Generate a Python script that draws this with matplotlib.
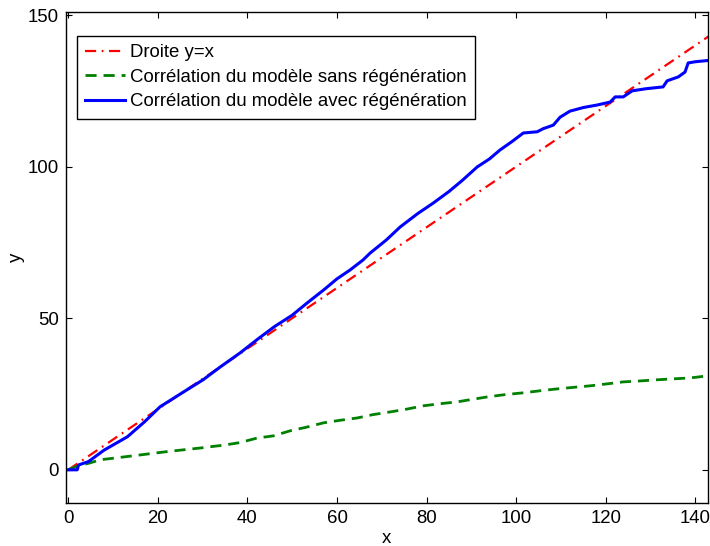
import numpy as np
import matplotlib.pyplot as plt

plt.rcParams['font.family'] = ['Liberation Sans', 'DejaVu Sans']

# droite y = x
x_droite = [0, 143]
y_droite = [0, 143]

# modèle sans régénération
x_sans = [0, 2, 4.9, 7.1, 11, 16, 22, 29.5, 35, 38.4, 42.2, 45.8, 49.6, 53, 57, 60.5,
          64.5, 68, 71.9, 75.5, 79.2, 83, 86.8, 90, 93.8, 97.5, 101.6, 105.5, 109.2,
          112.8, 116.5, 120, 123.9, 127.5, 131.5, 135, 138.8, 142.8]
y_sans = [0, 1.2, 2.3, 3.3, 4.0, 4.9, 6.0, 7.2, 8.2, 9.0, 10.5, 11.2, 12.9, 14.0, 15.5, 16.3,
          17.1, 18.2, 19.1, 20.0, 21.1, 21.8, 22.4, 23.2, 24.1, 24.8, 25.4, 26.1, 26.7,
          27.2, 27.7, 28.3, 29.0, 29.3, 29.7, 30.0, 30.3, 31.0]

# modèle avec régénération
x_avec = [0, 2, 2.3, 4.5, 8, 13.2, 17, 20.5, 25, 30.1, 34, 38.4, 42.2, 46, 50, 53.3,
          57, 60, 62.9, 65.8, 67.4, 71, 74.1, 78, 81.5, 85, 88, 91.3, 94, 96.4, 99,
          101.6, 104.7, 106, 108.3, 109.8, 112, 115, 118, 121, 122.1, 123.9, 125.9,
          129, 132.8, 133.7, 136.2, 137.7, 138.4, 140, 142.8]
y_avec = [0, 0, 1.6, 2.7, 6.5, 10.9, 15.8, 20.8, 25.0, 29.7, 34.0, 38.6, 43.0, 47.2, 51.0, 55.0,
          59.3, 63.0, 65.9, 69.2, 71.5, 75.8, 80.1, 84.5, 88.0, 91.8, 95.5, 99.9, 102.5, 105.5, 108.2,
          111.1, 111.5, 112.5, 113.7, 116.3, 118.3, 119.5, 120.3, 121.3, 123.0, 123.0, 125.0,
          125.7, 126.3, 128.3, 129.6, 131.2, 134.2, 134.6, 135.0]

fig = plt.figure(figsize=(7.1, 5.46), dpi=100)
ax = fig.add_axes([0.093, 0.079, 0.904, 0.899])

ax.plot(x_droite, y_droite, color='red', lw=1.6, linestyle=(0, (5, 2.5, 0.8, 2.5)),
        label='Droite y=x')
ax.plot(x_sans, y_sans, color='green', lw=2, linestyle=(0, (4, 2.5)),
        label='Corrélation du modèle sans régénération')
ax.plot(x_avec, y_avec, color='blue', lw=2.2, label='Corrélation du modèle avec régénération')

ax.set_xlim(-0.5, 142.8)
ax.set_ylim(-10.9, 151)
ax.set_xticks(range(0, 141, 20))
ax.set_yticks([0, 50, 100, 150])
ax.tick_params(direction='in', length=4, width=0.8, top=True, right=True, labelsize=13.4, pad=5)
for s in ax.spines.values():
    s.set_linewidth(1)

ax.set_xlabel('x', fontsize=13.4, labelpad=2)
ax.set_ylabel('y', fontsize=13.4, labelpad=2)

leg = ax.legend(loc='upper left', bbox_to_anchor=(0.017, 0.951), fontsize=13.4,
                handlelength=2.15, handletextpad=0.25, labelspacing=0.4,
                borderpad=0.45, borderaxespad=0, fancybox=False, framealpha=1)
leg.get_frame().set_edgecolor('black')
leg.get_frame().set_linewidth(1)

fig.savefig('out.png', dpi=100)
